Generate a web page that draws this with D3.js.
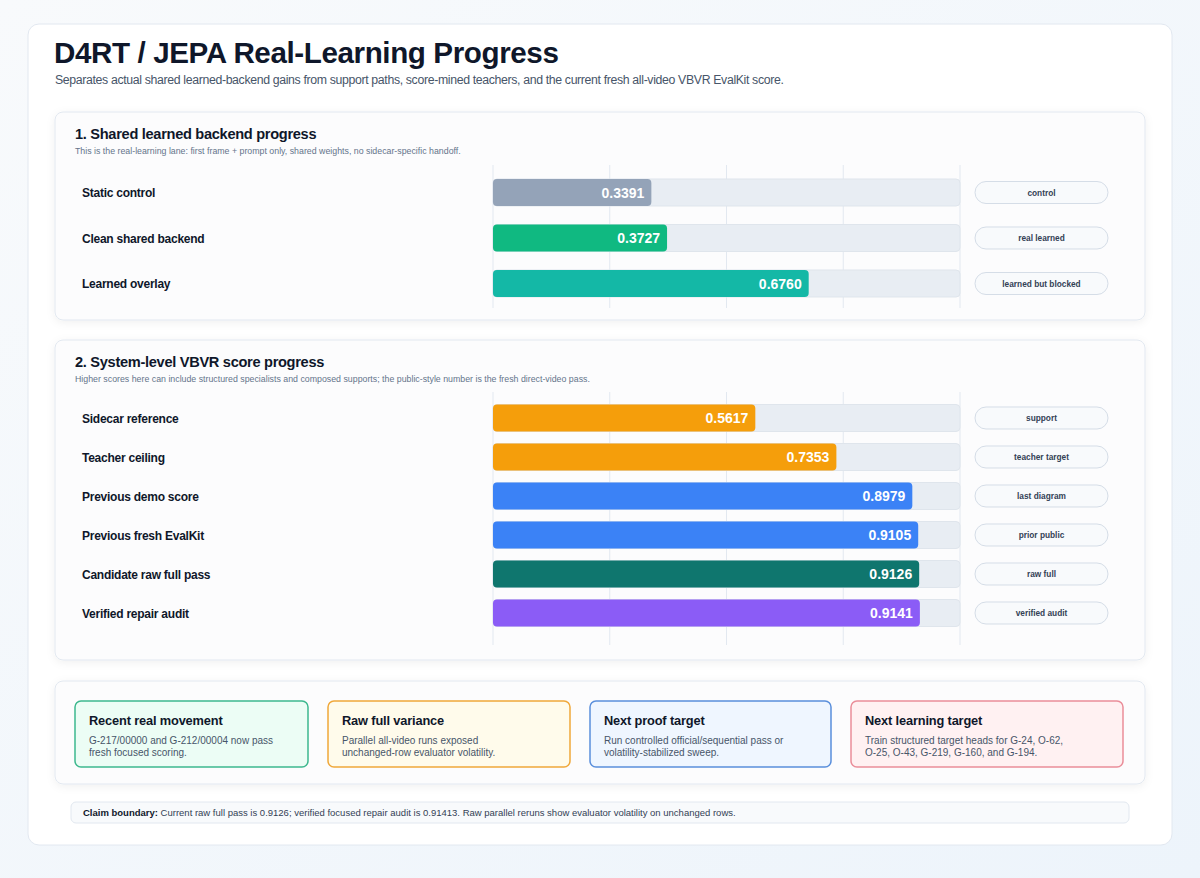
<!DOCTYPE html>
<html>
<head>
<meta charset="utf-8">
<script src="https://cdn.jsdelivr.net/npm/d3@7"></script>
<style>
  html, body { margin: 0; padding: 0; }
  body { width: 1200px; height: 878px; overflow: hidden; font-family: "Liberation Sans", Arial, Helvetica, sans-serif; }
</style>
</head>
<body>
<svg id="chart" width="1200" height="878"></svg>
<script>
// ---- data ----
const backendLabels = ['Static control', 'Clean shared backend', 'Learned overlay'];
const backendValues = [0.3391, 0.3727, 0.6760];
const backendTags = ['control', 'real learned', 'learned but blocked'];
const backendColors = ['#94a3b8', '#10b981', '#14b8a6'];

const systemLabels = ['Sidecar reference', 'Teacher ceiling', 'Previous demo score', 'Previous fresh EvalKit', 'Candidate raw full pass', 'Verified repair audit'];
const systemValues = [0.5617, 0.7353, 0.8979, 0.9105, 0.9126, 0.9141];
const systemTags = ['support', 'teacher target', 'last diagram', 'prior public', 'raw full', 'verified audit'];
const systemColors = ['#f59e0b', '#f59e0b', '#3b82f6', '#3b82f6', '#0f766e', '#8b5cf6'];

const gridTicks = [0, 0.25, 0.5, 0.75, 1];

const cardTitles = ['Recent real movement', 'Raw full variance', 'Next proof target', 'Next learning target'];
const cardLines = [
  ['G-217/00000 and G-212/00004 now pass', 'fresh focused scoring.'],
  ['Parallel all-video runs exposed', 'unchanged-row evaluator volatility.'],
  ['Run controlled official/sequential pass or', 'volatility-stabilized sweep.'],
  ['Train structured target heads for G-24, O-62,', 'O-25, O-43, G-219, G-160, and G-194.']
];
const cardFills = ['#ecfdf5', '#fffbeb', '#eff6ff', '#fff1f2'];
const cardStrokes = ['#3db88e', '#f0a83a', '#5a8fdc', '#ea8d99'];

const claimLead = 'Claim boundary:';
const claimText = ' Current raw full pass is 0.9126; verified focused repair audit is 0.91413. Raw parallel reruns show evaluator volatility on unchanged rows.';

// ---- svg ----
const svg = d3.select('#chart');
const defs = svg.append('defs');

const bg = defs.append('linearGradient').attr('id', 'bg')
  .attr('x1', '0').attr('y1', '0').attr('x2', '1').attr('y2', '1');
bg.append('stop').attr('offset', '0%').attr('stop-color', '#f8fafc');
bg.append('stop').attr('offset', '100%').attr('stop-color', '#edf4fb');

const shadow = defs.append('filter').attr('id', 'shadow')
  .attr('x', '-5%').attr('y', '-10%').attr('width', '110%').attr('height', '130%');
shadow.append('feDropShadow').attr('dx', 0).attr('dy', 2).attr('stdDeviation', 4)
  .attr('flood-color', '#0f172a').attr('flood-opacity', 0.06);

svg.append('rect').attr('width', 1200).attr('height', 878).attr('fill', 'url(#bg)');

// outer card
svg.append('rect')
  .attr('x', 28).attr('y', 24).attr('width', 1144).attr('height', 821)
  .attr('rx', 11).attr('fill', '#ffffff').attr('stroke', '#e2e8f0');

svg.append('text')
  .attr('x', 54).attr('y', 63)
  .attr('font-size', 29.6).attr('font-weight', 700).attr('fill', '#0f172a')
  .attr('letter-spacing', '-0.4')
  .text('D4RT / JEPA Real-Learning Progress');

svg.append('text')
  .attr('x', 55).attr('y', 84)
  .attr('font-size', 12.3).attr('fill', '#475569')
  .attr('letter-spacing', '-0.35')
  .text('Separates actual shared learned-backend gains from support paths, score-mined teachers, and the current fresh all-video VBVR EvalKit score.');

// x scale shared by both bar sections
const x = d3.scaleLinear().domain([0, 1]).range([493, 960]);

function panel(y, h) {
  svg.append('rect')
    .attr('x', 55).attr('y', y).attr('width', 1090).attr('height', h)
    .attr('rx', 8).attr('fill', '#fcfcfd').attr('stroke', '#e2e8f0')
    .attr('filter', 'url(#shadow)');
}

function section(opts) {
  panel(opts.top, opts.height);

  svg.append('text')
    .attr('x', 75).attr('y', opts.top + 27)
    .attr('font-size', 14.6).attr('font-weight', 700).attr('fill', '#0f172a')
    .attr('letter-spacing', '-0.3')
    .text(opts.title);
  svg.append('text')
    .attr('x', 75).attr('y', opts.top + 42)
    .attr('font-size', 8.8).attr('fill', '#64748b')
    .text(opts.sub);

  const y = d3.scaleBand()
    .domain(opts.labels)
    .range(opts.rowRange);

  const g = svg.append('g');

  // vertical gridlines
  g.selectAll('line.grid')
    .data(gridTicks)
    .join('line')
    .attr('class', 'grid')
    .attr('x1', d => x(d)).attr('x2', d => x(d))
    .attr('y1', opts.gridTop).attr('y2', opts.gridBottom)
    .attr('stroke', '#e2e8f0').attr('stroke-width', 1);

  const rows = g.selectAll('g.row')
    .data(opts.labels.map((l, i) => ({ label: l, value: opts.values[i], tag: opts.tags[i], color: opts.colors[i] })))
    .join('g')
    .attr('class', 'row')
    .attr('transform', d => `translate(0,${y(d.label) + y.bandwidth() / 2})`);

  const bh = 27;

  rows.append('text')
    .attr('x', 82).attr('y', 4.5)
    .attr('font-size', 12).attr('font-weight', 700).attr('fill', '#0f172a')
    .attr('letter-spacing', '-0.25')
    .text(d => d.label);

  // track
  rows.append('rect')
    .attr('x', x(0)).attr('y', -bh / 2)
    .attr('width', x(1) - x(0)).attr('height', bh)
    .attr('rx', 4).attr('fill', '#e8edf3').attr('stroke', '#dfe5ec');

  // bar
  rows.append('rect')
    .attr('x', x(0)).attr('y', -bh / 2)
    .attr('width', d => x(d.value) - x(0)).attr('height', bh)
    .attr('rx', 4).attr('fill', d => d.color);

  rows.append('text')
    .attr('x', d => x(d.value) - 7).attr('y', 5)
    .attr('text-anchor', 'end')
    .attr('font-size', 14).attr('font-weight', 700).attr('fill', '#ffffff')
    .text(d => d.value.toFixed(4));

  // tag pills
  rows.append('rect')
    .attr('x', 975).attr('y', -11)
    .attr('width', 133).attr('height', 22)
    .attr('rx', 11).attr('fill', '#f8fafc').attr('stroke', '#d5dde7');

  rows.append('text')
    .attr('x', 975 + 133 / 2).attr('y', 3)
    .attr('text-anchor', 'middle')
    .attr('font-size', 8.3).attr('font-weight', 700).attr('fill', '#334155')
    .text(d => d.tag);
}

section({
  top: 112, height: 208,
  title: '1. Shared learned backend progress',
  sub: 'This is the real-learning lane: first frame + prompt only, shared weights, no sidecar-specific handoff.',
  labels: backendLabels, values: backendValues, tags: backendTags, colors: backendColors,
  rowRange: [169.75, 306.25], gridTop: 165, gridBottom: 308
});

section({
  top: 340, height: 320,
  title: '2. System-level VBVR score progress',
  sub: 'Higher scores here can include structured specialists and composed supports; the public-style number is the fresh direct-video pass.',
  labels: systemLabels, values: systemValues, tags: systemTags, colors: systemColors,
  rowRange: [398.5, 632.5], gridTop: 392, gridBottom: 645
});

// ---- notes cards ----
panel(681, 103);

const cardX = [75, 328, 590, 851];
const cardW = [233, 242, 241, 272];

const cards = svg.selectAll('g.card')
  .data(cardTitles.map((t, i) => ({ title: t, lines: cardLines[i], fill: cardFills[i], stroke: cardStrokes[i], x: cardX[i], w: cardW[i] })))
  .join('g')
  .attr('class', 'card')
  .attr('transform', d => `translate(${d.x},701)`);

cards.append('rect')
  .attr('width', d => d.w).attr('height', 66)
  .attr('rx', 6).attr('fill', d => d.fill)
  .attr('stroke', d => d.stroke).attr('stroke-width', 1.5);

cards.append('text')
  .attr('x', 14).attr('y', 24)
  .attr('font-size', 12.8).attr('font-weight', 700).attr('fill', '#0f172a')
  .attr('letter-spacing', '-0.15')
  .text(d => d.title);

cards.each(function(d) {
  d3.select(this).selectAll('text.line')
    .data(d.lines)
    .join('text')
    .attr('class', 'line')
    .attr('x', 14).attr('y', (l, i) => 43 + i * 11.5)
    .attr('font-size', 10).attr('fill', '#475569')
    .text(l => l);
});

// ---- claim boundary ----
svg.append('rect')
  .attr('x', 71).attr('y', 802).attr('width', 1058).attr('height', 21)
  .attr('rx', 5).attr('fill', '#f8fafc').attr('stroke', '#e2e8f0');

const claim = svg.append('text')
  .attr('x', 83).attr('y', 816)
  .attr('font-size', 9.5).attr('fill', '#334155');
claim.append('tspan').attr('font-weight', 700).attr('fill', '#0f172a').text(claimLead);
claim.append('tspan').text(claimText);
</script>
</body>
</html>
